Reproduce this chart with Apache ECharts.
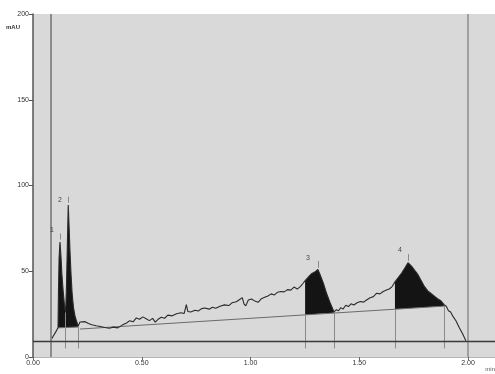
<!DOCTYPE html>
<html><head><meta charset="utf-8">
<script src="https://cdn.jsdelivr.net/npm/echarts@6/dist/echarts.min.js"></script>
<style>html,body{margin:0;padding:0;background:#fff}#c{width:495px;height:374px}</style>
</head><body><div id="c"></div>
<script>
// Signal (minutes, mAU)
const time = [0.078,0.090,0.104,0.115,0.117,0.120,0.124,0.128,0.133,0.139,0.145,0.150,0.154,0.158,0.162,0.166,0.170,0.175,0.180,0.186,0.193,0.200,0.208,0.216,0.225,0.240,0.255,0.270,0.290,0.310,0.330,0.350,0.370,0.390,0.410,0.430,0.445,0.460,0.475,0.490,0.505,0.520,0.535,0.550,0.562,0.575,0.590,0.605,0.620,0.640,0.660,0.680,0.695,0.705,0.712,0.725,0.745,0.760,0.775,0.790,0.810,0.825,0.840,0.860,0.880,0.900,0.915,0.935,0.950,0.962,0.970,0.978,0.990,1.005,1.020,1.035,1.050,1.065,1.080,1.095,1.110,1.125,1.140,1.155,1.170,1.185,1.200,1.215,1.230,1.242,1.251,1.265,1.280,1.295,1.310,1.320,1.335,1.350,1.365,1.384,1.395,1.405,1.415,1.425,1.438,1.450,1.462,1.475,1.490,1.505,1.520,1.535,1.550,1.565,1.580,1.595,1.610,1.625,1.640,1.652,1.664,1.680,1.695,1.710,1.724,1.740,1.755,1.770,1.785,1.800,1.815,1.830,1.845,1.860,1.875,1.890,1.900,1.910,1.920,1.930,1.945,1.960,1.975,1.990];
const mAU = [8.7,11.5,14.5,17.0,38.0,58.0,67.0,60.0,48.0,38.0,30.0,26.0,42.0,66.0,88.6,76.0,62.0,48.0,37.0,29.0,24.0,21.0,18.0,20.4,19.8,20.6,19.5,18.8,18.2,17.8,17.2,16.8,17.4,17.0,18.6,19.8,21.2,20.5,22.8,22.0,23.4,22.3,21.2,22.5,20.3,22.0,23.2,22.6,24.4,24.0,25.2,25.8,25.4,30.5,26.5,26.2,27.3,26.8,28.2,28.6,27.9,29.0,28.4,29.6,30.4,30.0,31.6,32.2,33.5,34.6,31.0,29.8,33.2,33.8,32.6,31.9,34.0,34.8,35.6,36.8,36.2,37.8,38.2,38.0,39.3,39.0,40.8,39.6,41.2,43.0,44.5,46.5,48.5,49.5,51.0,48.0,43.0,37.0,32.0,26.3,27.6,27.0,28.8,27.9,30.2,29.4,31.0,30.3,31.6,32.4,32.0,33.4,34.6,35.2,37.2,36.8,38.2,39.0,39.8,41.2,43.8,46.5,49.0,52.0,55.0,53.0,50.5,48.0,44.5,41.0,38.6,37.0,35.5,34.0,32.8,30.5,29.6,27.0,26.2,23.8,21.0,17.0,13.5,9.5];

// Integrated (filled) windows and their baseline values
const fillStart = [0.115, 1.251, 1.664];
const fillEnd = [0.208, 1.384, 1.890];
const fillBaseStart = [17.0, 24.6, 27.9];
const fillBaseEnd = [17.5, 25.8, 29.8];

// Baseline segments
const baseATime = [0.115, 0.208], baseAValue = [17.0, 17.5];
const baseBTime = [0.216, 1.894], baseBValue = [16.3, 29.7];

// Drop lines
const dropTime = [0.150, 0.208, 1.251, 1.384, 1.664, 1.890];
const dropTop = [26.0, 17.5, 24.6, 25.8, 27.9, 29.8];
const dropBottom = 5;

// Apex markers (short ticks above peak tops)
const apexTime = [0.124, 0.162, 1.310, 1.724];
const apexLow = [68.5, 90.0, 52.0, 56.0];
const apexHigh = [72.0, 93.5, 56.0, 60.0];

// Peak labels
const peakNames = ['1', '2', '3', '4'];
const peakLabelTime = [0.087, 0.124, 1.264, 1.687];
const peakLabelValue = [74, 91.5, 57.7, 62.4];

// Markers
const markerTimes = [0.078, 2.00];
const thresholdValue = 9;

// Axes
const xMin = 0, xMax = 2.124, xInterval = 0.5;
const yMin = 0, yMax = 200, yInterval = 50;

const signalData = time.map((t, i) => [t, mAU[i]]);

const chart = echarts.init(document.getElementById('c'));
const fontFamily = 'Liberation Sans, Arial, sans-serif';

chart.setOption({
  animation: false,
  grid: { left: 33, top: 14, right: 0, bottom: 17, show: true, backgroundColor: '#d9d9d9', borderWidth: 0 },
  xAxis: {
    type: 'value', min: xMin, max: xMax, interval: xInterval,
    axisLine: { lineStyle: { color: '#b5b5b5', width: 1 } },
    axisTick: { length: 3, lineStyle: { color: '#666' } },
    splitLine: { show: false },
    axisLabel: { fontSize: 7, color: '#333', margin: 3, fontFamily, showMaxLabel: false,
      formatter: v => v.toFixed(2) }
  },
  yAxis: {
    type: 'value', min: yMin, max: yMax, interval: yInterval,
    axisLine: { show: true, lineStyle: { color: '#555', width: 1.5 } },
    axisTick: { show: true, length: 4, lineStyle: { color: '#555' } },
    splitLine: { show: false },
    axisLabel: { fontSize: 7, color: '#333', margin: 4, fontFamily }
  },
  graphic: [
    { type: 'text', left: 6, top: 24, style: { text: 'mAU', fontSize: 6, fill: '#333', fontFamily, fontWeight: 'bold' } },
    { type: 'text', right: 0, top: 366, style: { text: 'min', fontSize: 6, fill: '#555', fontFamily } }
  ],
  series: [
    {
      type: 'custom',
      data: fillStart.map((_, i) => [i]),
      renderItem: function (params, api) {
        const k = api.value(0);
        const pts = [];
        for (let i = 0; i < time.length; i++) {
          if (time[i] >= fillStart[k] - 1e-9 && time[i] <= fillEnd[k] + 1e-9) pts.push(api.coord([time[i], mAU[i]]));
        }
        pts.push(api.coord([fillEnd[k], fillBaseEnd[k]]));
        pts.push(api.coord([fillStart[k], fillBaseStart[k]]));
        return { type: 'polygon', shape: { points: pts }, style: { fill: '#141414' } };
      },
      z: 2
    },
    {
      type: 'line', data: baseATime.map((t, i) => [t, baseAValue[i]]), symbol: 'none',
      lineStyle: { color: '#6a6a6a', width: 1 }, z: 3
    },
    {
      type: 'line', data: baseBTime.map((t, i) => [t, baseBValue[i]]), symbol: 'none',
      lineStyle: { color: '#6a6a6a', width: 1 }, z: 3,
      markLine: {
        silent: true, symbol: 'none', label: { show: false },
        lineStyle: { color: '#8a8a8a', width: 1, type: 'solid' },
        data: dropTime.map((t, i) => [{ coord: [t, dropTop[i]] }, { coord: [t, dropBottom] }])
          .concat(apexTime.map((t, i) => [{ coord: [t, apexLow[i]] }, { coord: [t, apexHigh[i]] }]))
      }
    },
    {
      type: 'line', data: signalData, symbol: 'none',
      lineStyle: { color: '#2a2a2a', width: 1.1 }, z: 4,
      markLine: {
        silent: true, symbol: 'none', label: { show: false },
        data: [
          { xAxis: markerTimes[0], lineStyle: { color: '#8c8c8c', width: 2, type: 'solid' } },
          { xAxis: markerTimes[1], lineStyle: { color: '#8c8c8c', width: 1.5, type: 'solid' } },
          { yAxis: thresholdValue, lineStyle: { color: '#3a3a3a', width: 1.3, type: 'solid' } }
        ]
      }
    },
    {
      type: 'scatter', symbolSize: 0, z: 5,
      data: peakNames.map((n, i) => ({ value: [peakLabelTime[i], peakLabelValue[i]], name: n })),
      label: { show: true, position: 'inside', formatter: p => p.name, fontSize: 7, color: '#222', fontFamily }
    }
  ]
});
</script></body></html>
